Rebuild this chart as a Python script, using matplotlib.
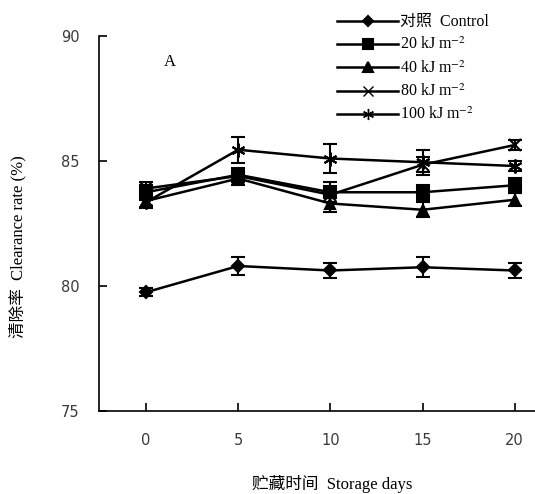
import numpy as np
import matplotlib
matplotlib.use('Agg')
import matplotlib.pyplot as plt
from matplotlib.lines import Line2D

plt.rcParams['font.family'] = ['Liberation Serif', 'Noto Sans CJK SC']
plt.rcParams['mathtext.fontset'] = 'stix'

days = [0, 5, 10, 15, 20]

labels = ['对照  Control', '20 kJ m$^{-2}$', '40 kJ m$^{-2}$',
          '80 kJ m$^{-2}$', '100 kJ m$^{-2}$']
control = [79.75, 80.8, 80.62, 80.75, 80.62]
control_err = [0.15, 0.35, 0.3, 0.4, 0.3]
uv20 = [83.75, 84.45, 83.75, 83.75, 84.03]
uv20_err = [0.3, 0.25, 0.4, 0.3, 0.3]
uv40 = [83.4, 84.3, 83.3, 83.05, 83.45]
uv40_err = [0.3, 0.25, 0.35, 0.3, 0.25]
uv80 = [83.9, 84.4, 83.65, 84.85, 85.64]
uv80_err = [0.25, 0.25, 0.3, 0.3, 0.2]
uv100 = [83.35, 85.45, 85.1, 84.95, 84.8]
uv100_err = [0.2, 0.52, 0.6, 0.5, 0.2]

series = [control, uv20, uv40, uv80, uv100]
errors = [control_err, uv20_err, uv40_err, uv80_err, uv100_err]
markers = ['D', 's', '^', 'x', (6, 2, 0)]
msizes = [6, 8, 7.5, 8, 10]
leg_sizes = [5.5, 7, 6.5, 7, 8]

fig = plt.figure(figsize=(5.35, 4.94), dpi=100)
ax = fig.add_axes([99/535, 83/494, 1 - 99/535, 375/494])

handles = []
for vals, err, m, ms, lms, lab in zip(series, errors, markers, msizes, leg_sizes, labels):
    ax.errorbar(days, vals, yerr=err, color='black', lw=1.8,
                marker=m, markersize=ms, markeredgewidth=1.5,
                capsize=5, elinewidth=1.5, capthick=1.5)
    lw_m = 1.0 if m in ('x', (6, 2, 0)) else 1.5
    handles.append(Line2D([], [], color='black', lw=1.8, marker=m,
                          markersize=lms, markeredgewidth=lw_m))

ax.set_xlim(-2.55, 21.1)
ax.set_ylim(75, 90)
ax.set_xticks(days)
ax.set_yticks([75, 80, 85, 90])
for s in ['top', 'right']:
    ax.spines[s].set_visible(False)
for s in ['left', 'bottom']:
    ax.spines[s].set_linewidth(1.2)
ax.tick_params(direction='in', length=6, width=1.2)
ax.tick_params(axis='x', pad=16)
ax.tick_params(axis='y', pad=14)
for t in ax.get_xticklabels() + ax.get_yticklabels():
    t.set_family('DejaVu Sans')
    t.set_fontsize(10.5)
    t.set_color('#3a3a3a')

fig.text(170/535, 1 - 62/494, 'A', fontsize=12, ha='center', va='center')

fig.text(18/535, 1 - 247/494, '清除率  Clearance rate (%)', rotation=90,
         ha='center', va='center', fontsize=12)
fig.text(332/535, 1 - 484/494, '贮藏时间  Storage days',
         ha='center', va='center', fontsize=12)

fig.legend(handles=handles, labels=labels, loc='upper left',
           bbox_to_anchor=(326/535, 1 - 3/494), frameon=False,
           fontsize=11.5, handlelength=3.8, handletextpad=0.15,
           labelspacing=0.42, borderpad=0.2)

fig.savefig('out.png', dpi=100)
